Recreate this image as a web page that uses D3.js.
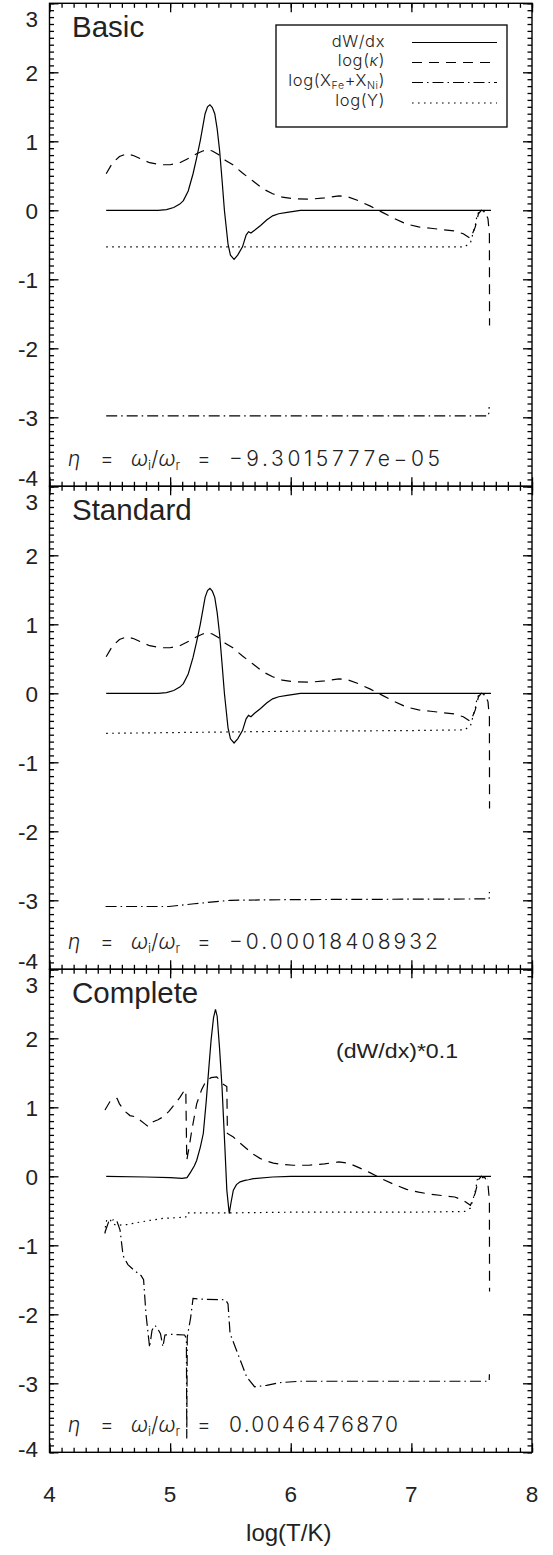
<!DOCTYPE html>
<html><head><meta charset="utf-8">
<script src="https://cdn.jsdelivr.net/npm/d3@7"></script>
<style>body{margin:0;background:#fff} svg{display:block}</style>
</head><body><svg id="c" width="553" height="1555"></svg>
<script>
// ---------------- DATA ----------------
const panelNames = ["Basic", "Standard", "Complete"];
const etaValues = ["\u22129.3015777e\u221205", "\u22120.00018408932", "0.0046476870"];
const yTickValues = [3, 2, 1, 0, -1, -2, -3, -4];
const xTickValues = [4, 5, 6, 7, 8];
const xTitle = "log(T/K)";
const scaleNote = "(dW/dx)*0.1";

// Basic model
const basicDW = [[4.47,0],[4.9,0],[4.97,0.01],[5.03,0.04],[5.08,0.09],[5.11,0.14],[5.15,0.28],[5.19,0.53],[5.22,0.76],[5.25,1.01],[5.29,1.40],[5.31,1.50],[5.33,1.53],[5.35,1.49],[5.37,1.40],[5.39,1.18],[5.41,0.87],[5.43,0.45],[5.45,0.0],[5.48,-0.49],[5.50,-0.65],[5.53,-0.71],[5.56,-0.65],[5.60,-0.53],[5.63,-0.36],[5.65,-0.31],[5.67,-0.33],[5.70,-0.29],[5.75,-0.22],[5.80,-0.14],[5.85,-0.08],[5.90,-0.05],[5.97,-0.03],[6.08,0],[7.66,0]];
const basicKappa = [[4.47,0.53],[4.52,0.68],[4.58,0.78],[4.64,0.82],[4.70,0.79],[4.75,0.75],[4.83,0.69],[4.92,0.66],[5.00,0.66],[5.08,0.69],[5.16,0.76],[5.22,0.82],[5.27,0.86],[5.31,0.88],[5.35,0.86],[5.40,0.81],[5.46,0.72],[5.52,0.66],[5.60,0.54],[5.69,0.42],[5.77,0.31],[5.85,0.24],[5.93,0.19],[6.02,0.17],[6.15,0.16],[6.28,0.18],[6.40,0.21],[6.48,0.19],[6.56,0.14],[6.66,0.06],[6.76,-0.03],[6.86,-0.12],[6.96,-0.20],[7.06,-0.24],[7.16,-0.26],[7.26,-0.28],[7.36,-0.30],[7.43,-0.34],[7.49,-0.41],[7.53,-0.24],[7.556,-0.05],[7.58,0.0],[7.61,-0.02],[7.635,-0.12],[7.647,-0.35],[7.648,-1.67]];
const basicFe = [[4.47,-2.98],[7.64,-2.98],[7.645,-2.85]];
const basicY = [[4.47,-0.53],[7.44,-0.53],[7.49,-0.47],[7.51,-0.34],[7.535,-0.18],[7.545,-0.05],[7.57,-0.02],[7.62,-0.02],[7.63,-0.04]];

// Standard model
const stdDW = [[4.47,0],[4.9,0],[4.97,0.01],[5.03,0.04],[5.08,0.09],[5.11,0.14],[5.15,0.28],[5.19,0.52],[5.22,0.75],[5.25,1.00],[5.29,1.39],[5.31,1.49],[5.33,1.52],[5.35,1.48],[5.37,1.39],[5.39,1.17],[5.41,0.86],[5.43,0.44],[5.45,0.0],[5.48,-0.50],[5.50,-0.66],[5.53,-0.72],[5.56,-0.66],[5.60,-0.54],[5.63,-0.37],[5.65,-0.32],[5.67,-0.34],[5.70,-0.29],[5.75,-0.22],[5.80,-0.14],[5.85,-0.08],[5.90,-0.05],[5.97,-0.03],[6.08,0],[7.66,0]];
const stdKappa = [[4.47,0.53],[4.52,0.68],[4.58,0.78],[4.64,0.82],[4.70,0.79],[4.75,0.75],[4.83,0.69],[4.92,0.66],[5.00,0.66],[5.08,0.69],[5.16,0.76],[5.22,0.82],[5.27,0.86],[5.31,0.88],[5.35,0.86],[5.40,0.81],[5.46,0.72],[5.52,0.66],[5.60,0.54],[5.69,0.42],[5.77,0.31],[5.85,0.24],[5.93,0.19],[6.02,0.17],[6.15,0.16],[6.28,0.18],[6.40,0.21],[6.48,0.19],[6.56,0.14],[6.66,0.06],[6.76,-0.03],[6.86,-0.12],[6.96,-0.20],[7.06,-0.24],[7.16,-0.26],[7.26,-0.28],[7.36,-0.30],[7.43,-0.34],[7.49,-0.41],[7.53,-0.24],[7.556,-0.05],[7.58,0.0],[7.61,-0.02],[7.635,-0.12],[7.647,-0.35],[7.648,-1.67]];
const stdFe = [[4.465,-3.09],[4.99,-3.09],[5.20,-3.05],[5.50,-3.00],[6.00,-2.99],[7.645,-2.98],[7.647,-2.88]];
const stdY = [[4.47,-0.58],[5.0,-0.57],[6.0,-0.55],[7.0,-0.54],[7.44,-0.53],[7.49,-0.47],[7.51,-0.34],[7.535,-0.18],[7.545,-0.05],[7.57,-0.02],[7.62,-0.02],[7.63,-0.04]];

// Complete model (dW/dx scaled by 0.1)
const compDW = [[4.47,0],[4.8,-0.01],[5.0,-0.02],[5.1,-0.03],[5.14,-0.02],[5.17,0.06],[5.20,0.15],[5.22,0.23],[5.25,0.42],[5.275,0.62],[5.30,1.10],[5.32,1.55],[5.34,1.98],[5.36,2.30],[5.376,2.42],[5.39,2.32],[5.41,1.85],[5.43,1.30],[5.455,0.38],[5.47,-0.20],[5.49,-0.54],[5.505,-0.38],[5.524,-0.20],[5.55,-0.12],[5.58,-0.08],[5.62,-0.06],[5.65,-0.05],[5.69,-0.035],[5.85,-0.01],[6.0,0],[7.66,0]];
const compKappa = [[4.46,0.96],[4.50,1.08],[4.53,1.12],[4.56,1.13],[4.58,1.05],[4.62,0.95],[4.667,0.88],[4.72,0.86],[4.76,0.80],[4.79,0.76],[4.82,0.72],[4.86,0.79],[4.90,0.82],[4.94,0.86],[4.99,0.94],[5.03,1.03],[5.08,1.14],[5.12,1.25],[5.13,1.25],[5.138,0.23],[5.16,0.45],[5.18,0.67],[5.22,1.05],[5.26,1.25],[5.30,1.39],[5.34,1.43],[5.386,1.44],[5.42,1.38],[5.436,1.34],[5.47,1.30],[5.475,0.62],[5.524,0.57],[5.58,0.48],[5.635,0.40],[5.69,0.32],[5.745,0.26],[5.80,0.22],[5.856,0.19],[5.94,0.17],[6.02,0.16],[6.15,0.16],[6.28,0.18],[6.40,0.21],[6.48,0.19],[6.56,0.13],[6.66,0.05],[6.76,-0.04],[6.86,-0.12],[6.96,-0.19],[7.06,-0.23],[7.16,-0.26],[7.26,-0.28],[7.36,-0.30],[7.43,-0.35],[7.49,-0.42],[7.53,-0.24],[7.556,-0.05],[7.58,0.0],[7.61,-0.02],[7.635,-0.12],[7.647,-0.35],[7.648,-1.67]];
const compFe = [[4.46,-0.81],[4.49,-0.66],[4.53,-0.63],[4.557,-0.64],[4.585,-0.78],[4.61,-1.15],[4.65,-1.28],[4.70,-1.36],[4.76,-1.44],[4.78,-1.50],[4.80,-2.00],[4.83,-2.48],[4.85,-2.23],[4.875,-2.16],[4.90,-2.22],[4.92,-2.28],[4.94,-2.47],[4.957,-2.30],[5.013,-2.29],[5.12,-2.30],[5.135,-2.35],[5.138,-3.80],[5.142,-2.33],[5.17,-2.05],[5.19,-1.77],[5.25,-1.78],[5.46,-1.79],[5.48,-1.85],[5.497,-2.28],[5.55,-2.52],[5.635,-2.91],[5.70,-3.05],[5.80,-3.03],[5.91,-2.99],[6.08,-2.97],[7.00,-2.97],[7.645,-2.97],[7.647,-2.87]];
const compY = [[4.46,-0.83],[4.465,-0.70],[4.475,-0.63],[4.50,-0.62],[4.52,-0.68],[4.55,-0.71],[4.64,-0.70],[4.73,-0.67],[4.83,-0.64],[4.94,-0.61],[5.05,-0.60],[5.13,-0.59],[5.138,-0.53],[5.50,-0.53],[6.00,-0.52],[7.00,-0.52],[7.44,-0.51],[7.49,-0.46],[7.51,-0.34],[7.535,-0.18],[7.545,-0.05],[7.57,-0.02],[7.62,-0.02],[7.63,-0.04]];

const panelSeries = [
  [basicDW, basicKappa, basicFe, basicY],
  [stdDW, stdKappa, stdFe, stdY],
  [compDW, compKappa, compFe, compY]
];

// ---------------- STYLE / LAYOUT ----------------
const dashes = ["none", "10,7", "11,4,1.5,4", "1.6,4.4"];
const X0 = 49.5, X1 = 532;
const panelTop = [3.3, 486.3, 969.3];
const PH = 483;
const tickFont = "'Liberation Sans', Arial, Helvetica, sans-serif";
const thinFont = "Inter, 'DejaVu Sans', sans-serif";

const svg = d3.select("#c");
const x = d3.scaleLinear().domain([4, 8]).range([X0, X1]);
const minorX = d3.range(4, 8.0001, 0.1).map(v => +v.toFixed(1));
const minorY = d3.range(-4, 3.0001, 0.1).map(v => +v.toFixed(1));

const line = (y) => d3.line().x(d => x(d[0])).y(d => y(d[1]));

panelSeries.forEach((series, p) => {
  const top = panelTop[p], bot = top + PH;
  const y = d3.scaleLinear().domain([-4, 3]).range([bot, top]);
  const g = svg.append("g");

  // curves
  series.forEach((s, i) => {
    g.append("path").datum(s)
      .attr("d", line(y))
      .attr("fill", "none")
      .attr("stroke", "#000")
      .attr("stroke-width", 1.2)
      .attr("stroke-dasharray", dashes[i]);
  });

  // axes (ticks inward)
  const addAxis = (axisFn, scale, vals, size, transform) => {
    const a = g.append("g").attr("transform", transform)
      .call(axisFn(scale).tickValues(vals).tickSizeInner(size).tickSizeOuter(0).tickFormat(""));
    a.select(".domain").remove();
    a.selectAll("line").attr("stroke", "#000").attr("stroke-width", 1.3);
  };
  addAxis(d3.axisLeft, y, minorY, -4.5, `translate(${X0},0)`);
  addAxis(d3.axisLeft, y, yTickValues, -9, `translate(${X0},0)`);
  addAxis(d3.axisRight, y, minorY, -4.5, `translate(${X1},0)`);
  addAxis(d3.axisRight, y, yTickValues, -9, `translate(${X1},0)`);
  addAxis(d3.axisTop, x, minorX, -4.5, `translate(0,${top})`);
  addAxis(d3.axisTop, x, xTickValues, -9, `translate(0,${top})`);
  addAxis(d3.axisBottom, x, minorX, -4.5, `translate(0,${bot})`);
  addAxis(d3.axisBottom, x, xTickValues, -9, `translate(0,${bot})`);

  g.append("rect").attr("x", X0).attr("y", top).attr("width", X1 - X0).attr("height", PH)
    .attr("fill", "none").attr("stroke", "#000").attr("stroke-width", 1.4);

  // y tick labels
  yTickValues.forEach(v => {
    let off = 1;
    if (v === 3) off = 16;
    if (v === -4) off = (p === 2) ? -3.5 : -8;
    g.append("text").attr("x", 38).attr("y", y(v) + off + 8)
      .attr("text-anchor", "end").attr("font-family", tickFont).attr("font-size", 22.5)
      .attr("fill", "#222").text(v < 0 ? "-" + Math.abs(v) : String(v));
  });

  // panel name
  g.append("text").attr("x", 72).attr("y", top + 34)
    .attr("font-family", tickFont).attr("font-size", 29.5).attr("fill", "#222")
    .text(panelNames[p]);

  // eta annotation
  const ey = y(-3.6) + 7;
  const et = g.append("text").attr("y", ey).attr("font-family", thinFont)
    .attr("font-weight", 300).attr("font-size", 21).attr("fill", "#222");
  et.append("tspan").attr("x", 68).attr("font-style", "italic").text("\u03b7");
  et.append("tspan").attr("x", 100).text("=");
  et.append("tspan").attr("x", 131).attr("font-style", "italic").text("\u03c9");
  et.append("tspan").attr("font-size", 13).attr("dy", 4).text("i");
  et.append("tspan").attr("dy", -4).text("/");
  et.append("tspan").attr("font-style", "italic").text("\u03c9");
  et.append("tspan").attr("font-size", 13).attr("dy", 4).text("r");
  et.append("tspan").attr("x", 197).attr("dy", -4).text("=");
  const valWidth = [211, 209, 169][p];
  g.append("text").attr("x", 229).attr("y", ey).attr("font-family", thinFont)
    .attr("font-weight", 300).attr("font-size", 21).attr("fill", "#222")
    .attr("textLength", valWidth).attr("lengthAdjust", "spacing")
    .text(etaValues[p]);

  if (p === 0) {
    // legend
    const lg = g.append("g");
    lg.append("rect").attr("x", 276).attr("y", 25).attr("width", 231).attr("height", 102)
      .attr("fill", "none").attr("stroke", "#000").attr("stroke-width", 1.3);
    const rows = [46.5, 66, 85.5, 106];
    const lineY = [42.5, 62.5, 82.5, 103];
    const labels = [
      [["dW/dx", 0]],
      [["log(", 0], ["\u03ba", 0, "italic"], [")", 0]],
      [["log(X", 0], ["Fe", 1], ["+X", 0], ["Ni", 1], [")", 0]],
      [["log(Y)", 0]]
    ];
    labels.forEach((parts, i) => {
      const t = lg.append("text").attr("x", 385).attr("y", rows[i]).attr("text-anchor", "end")
        .attr("font-family", thinFont).attr("font-weight", 300).attr("font-size", 16.5)
        .attr("letter-spacing", 0.6).attr("fill", "#222");
      let prevSub = 0;
      parts.forEach(pt => {
        const ts = t.append("tspan").text(pt[0]);
        const dy = (pt[1] ? 3 : 0) - (prevSub ? 3 : 0);
        if (dy) ts.attr("dy", dy);
        if (pt[1]) ts.attr("font-size", 10.5);
        if (pt[2]) ts.attr("font-style", pt[2]);
        prevSub = pt[1];
      });
      lg.append("line").attr("x1", 412).attr("x2", 497).attr("y1", lineY[i]).attr("y2", lineY[i])
        .attr("stroke", "#000").attr("stroke-width", 1.2).attr("stroke-dasharray", dashes[i]);
    });
  }
  if (p === 2) {
    g.append("text").attr("x", 336).attr("y", 1058)
      .attr("font-family", tickFont).attr("font-size", 20).attr("fill", "#222")
      .attr("textLength", 122).attr("lengthAdjust", "spacingAndGlyphs").text(scaleNote);
  }
});

// x tick labels and title
xTickValues.forEach(v => {
  svg.append("text").attr("x", x(v)).attr("y", 1502).attr("text-anchor", "middle")
    .attr("font-family", tickFont).attr("font-size", 22.5).attr("fill", "#222").text(v);
});
svg.append("text").attr("x", x(6) - 2).attr("y", 1541).attr("text-anchor", "middle")
  .attr("font-family", tickFont).attr("font-size", 24).attr("fill", "#222").text(xTitle);
</script>
</body></html>
